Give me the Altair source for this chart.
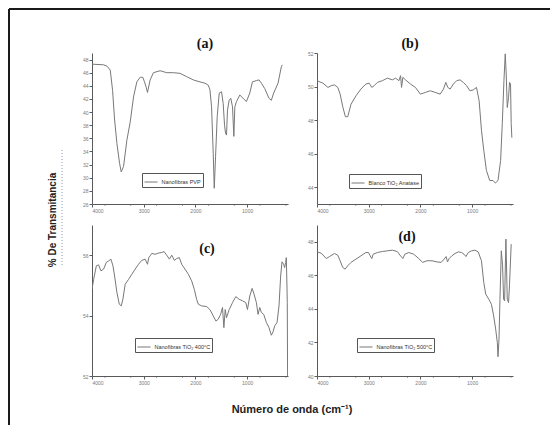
import altair as alt
import pandas as pd

# ---- data (wavenumber cm-1, % transmittance) ----
a_w = [4000, 3775, 3711, 3647, 3602, 3563, 3518, 3467, 3435, 3390, 3326, 3261, 3197, 3133, 3069, 3017, 2985, 2953, 2927, 2876,
       2812, 2683, 2555, 2426, 2298, 2170, 2041, 1913, 1816, 1752, 1720, 1688, 1656, 1636, 1611, 1579, 1540, 1495, 1463, 1437,
       1418, 1399, 1380, 1348, 1316, 1283, 1257, 1238, 1206, 1142, 1078, 1014, 949, 898, 821, 770, 725, 661, 577, 532,
       487, 403, 339, 320]
a_t = [47.3, 47.2, 47.0, 46.4, 43.3, 38.8, 35.2, 32.2, 30.9, 31.7, 35.7, 38.5, 42.3, 44.6, 45.3, 45.3, 44.6, 43.8, 43.0, 44.9,
       46.0, 46.3, 46.0, 46.0, 45.9, 45.4, 44.9, 44.6, 44.4, 44.1, 43.4, 40.8, 33.7, 28.4, 33.2, 39.3, 42.9, 43.1, 41.3, 38.0,
       36.8, 36.5, 40.3, 41.8, 42.1, 40.8, 36.3, 40.8, 41.6, 42.6, 42.1, 41.6, 42.9, 44.6, 44.8, 44.9, 44.4, 43.6, 42.1, 41.8,
       42.9, 44.4, 46.9, 47.2]

b_w = [4000, 3885, 3789, 3725, 3662, 3598, 3553, 3502, 3451, 3406, 3342, 3246, 3151, 3055, 2991, 2940, 2895, 2831, 2736, 2640,
       2544, 2480, 2416, 2384, 2365, 2340, 2289, 2193, 2097, 2001, 1905, 1810, 1714, 1618, 1554, 1509, 1471, 1426, 1363, 1299,
       1235, 1171, 1107, 1043, 979, 916, 865, 820, 775, 724, 660, 596, 551, 500, 449, 417, 385, 360, 341, 321,
       296, 277, 258, 245, 232]
b_t = [50.35, 50.2, 49.95, 50.05, 50.1, 49.95, 49.55, 48.8, 48.2, 48.2, 48.95, 49.45, 49.85, 50.15, 50.2, 49.95, 50.05, 50.25, 50.35, 50.5,
       50.4, 50.5, 50.35, 50.65, 49.95, 50.55, 50.4, 50.15, 49.95, 49.55, 49.65, 49.75, 49.65, 49.55, 49.85, 50.25, 49.95, 49.85, 50.15, 50.35,
       50.4, 50.25, 50.05, 49.75, 49.8, 49.95, 49.15, 47.4, 46.2, 45.0, 44.4, 44.4, 44.25, 44.4, 45.6, 47.8, 50.35, 51.95, 50.75, 48.75,
       49.35, 50.25, 50.15, 47.8, 46.95]

c_w = [4000, 3968, 3916, 3872, 3827, 3775, 3724, 3679, 3634, 3595, 3563, 3518, 3473, 3435, 3403, 3358, 3293, 3229, 3165, 3101,
       3037, 2972, 2927, 2902, 2876, 2844, 2780, 2715, 2651, 2606, 2555, 2503, 2458, 2407, 2362, 2311, 2266, 2202, 2137, 2073,
       2022, 1977, 1945, 1880, 1784, 1720, 1656, 1604, 1559, 1514, 1476, 1450, 1424, 1399, 1347, 1283, 1219, 1155, 1090, 1026,
       994, 949, 904, 866, 821, 789, 756, 724, 679, 628, 577, 532, 500, 467, 422, 384, 352, 326, 294, 275,
       255, 243, 230, 224, 218]
c_t = [54.87, 55.2, 55.65, 55.68, 55.48, 55.54, 55.76, 55.81, 55.87, 55.65, 55.31, 54.76, 54.38, 54.32, 54.54, 55.04, 55.2, 55.37, 55.54, 55.7,
       55.83, 55.87, 55.7, 55.92, 55.98, 56.06, 56.03, 56.07, 56.09, 56.12, 56.0, 55.87, 56.0, 55.83, 55.89, 55.92, 55.7, 55.54, 55.37, 55.15,
       54.87, 54.54, 54.38, 54.32, 54.3, 54.2, 53.99, 53.82, 53.88, 54.04, 54.27, 53.6, 54.2, 53.93, 54.2, 54.43, 54.63, 54.54, 54.49, 54.43,
       54.2, 54.65, 54.9, 54.71, 54.43, 54.04, 54.27, 54.1, 54.04, 53.77, 53.6, 53.35, 53.46, 53.66, 53.77, 54.32, 55.31, 55.78, 55.7, 55.59,
       55.76, 55.92, 54.98, 54.43, 52.0]

d_w = [4000, 3917, 3821, 3757, 3662, 3598, 3553, 3502, 3457, 3406, 3342, 3246, 3151, 3055, 3004, 2972, 2940, 2914, 2831, 2736,
       2640, 2544, 2448, 2384, 2340, 2301, 2225, 2129, 2033, 1957, 1874, 1778, 1682, 1599, 1541, 1503, 1477, 1445, 1394, 1331,
       1267, 1203, 1158, 1120, 1075, 1011, 947, 884, 820, 775, 737, 679, 628, 584, 545, 513, 500, 481, 462, 436,
       411, 392, 372, 347, 321, 296, 277, 245]
d_t = [47.4, 47.32, 47.0, 47.12, 47.3, 47.2, 46.87, 46.47, 46.37, 46.57, 46.77, 46.97, 47.16, 47.36, 47.36, 47.16, 47.0, 47.26, 47.36, 47.42,
       47.46, 47.5, 47.42, 47.16, 47.0, 47.26, 47.36, 47.26, 47.0, 46.77, 46.87, 46.87, 46.8, 46.77, 46.97, 47.12, 46.8, 47.0, 47.16, 47.3,
       47.4, 47.36, 47.26, 47.12, 47.36, 47.46, 47.5, 47.4, 46.87, 45.57, 44.88, 44.58, 44.28, 43.58, 42.79, 41.99, 41.15, 42.19, 44.58, 47.46,
       46.57, 44.58, 44.48, 48.16, 44.58, 44.38, 45.47, 47.86]

names = ["Nanofibras PVP", "Blanco TiO\u2082 Anatase", "Nanofibras TiO\u2082 400°C", "Nanofibras TiO\u2082 500°C"]
panel_labels = ["(a)", "(b)", "(c)", "(d)"]
x_ticks = [4000, 3500, 3000, 2500, 2000, 1500, 1000, 500]
x_minor = [3750, 3250, 2750, 2250, 1750, 1250, 750, 250]
y_domains = [[26, 49], [43, 52], [52, 57], [40, 49]]
y_ticks = [list(range(26, 49, 2)), [44, 46, 48, 50, 52], [52, 54, 56], [40, 42, 44, 46, 48]]
y_title = "% De Transmitancia"
x_title = "Número de onda (cm\u207b\u00b9)"

W, H = 196, 151
X_DOMAIN = [4000, 210]
GRAY = "#787878"
AX = "#5a5a5a"


def panel(wn, tr, k, legend_xy, label_xy):
    df = pd.DataFrame({"w": wn, "t": tr, "s": names[k], "i": list(range(len(wn)))})
    xs = alt.Scale(domain=X_DOMAIN, nice=False, zero=False)
    ys = alt.Scale(domain=y_domains[k], nice=False, zero=False)
    line = alt.Chart(df).mark_line(strokeWidth=1.0, clip=True).encode(
        x=alt.X("w:Q", scale=xs, axis=alt.Axis(values=x_ticks, title=None, format="d", grid=False,
                                                 labelFontSize=5, labelColor="#7a7a7a", labelPadding=1,
                                                 tickSize=3, tickColor=AX, domainColor=AX, labelFont="Liberation Sans")),
        y=alt.Y("t:Q", scale=ys, axis=alt.Axis(values=y_ticks[k], title=None, grid=False,
                                                 labelFontSize=5, labelColor="#7a7a7a", labelPadding=1,
                                                 tickSize=3, tickColor=AX, domainColor=AX, labelFont="Liberation Sans")),
        color=alt.Color("s:N", scale=alt.Scale(range=[GRAY]),
                        legend=alt.Legend(orient="none", legendX=legend_xy[0], legendY=legend_xy[1], title=None,
                                          strokeColor="#555", fillColor="white", padding=1.5,
                                          labelFontSize=5.5, labelFont="Liberation Sans", labelColor="#333",
                                          symbolType="stroke", symbolStrokeWidth=1, symbolSize=170,
                                          labelOffset=3)),
        order="i:Q",
    )
    minor = alt.Chart(pd.DataFrame({"m": x_minor})).mark_tick(color=AX, size=2, thickness=0.8,
                                                              orient="vertical").encode(
        x=alt.X("m:Q", scale=xs), y=alt.value(H + 1))
    lab = alt.Chart(pd.DataFrame({"l": [panel_labels[k]]})).mark_text(
        font="Liberation Serif", fontWeight="bold", fontSize=14, color="#111").encode(
        x=alt.value(label_xy[0]), y=alt.value(label_xy[1]), text="l:N")
    return line, minor, lab


la, ma, ta = panel(a_w, a_t, 0, (50, 120), (113, -9))
lb, mb, tb = panel(b_w, b_t, 1, (32, 121), (93, -9))
lc, mc, tc = panel(c_w, c_t, 2, (43, 113), (115, 24))
ld, md, td = panel(d_w, d_t, 3, (40, 113), (90, 12))

one = pd.DataFrame({"k": [0]})
frame_left = alt.Chart(one).mark_rule(color="#1a1a1a", strokeWidth=2).encode(
    x=alt.value(-83), y=alt.value(-44), y2=alt.value(372))
frame_top = alt.Chart(one).mark_rule(color="#1a1a1a", strokeWidth=2).encode(
    x=alt.value(-83), x2=alt.value(458), y=alt.value(-44))
dotted = alt.Chart(one).mark_rule(color="#8d9ab8", strokeWidth=1, strokeDash=[1, 2]).encode(
    x=alt.value(-30), y=alt.value(97), y2=alt.value(214))
ytitle = alt.Chart(pd.DataFrame({"l": [y_title]})).mark_text(
    font="Liberation Sans", fontWeight="bold", fontSize=10, angle=270, color="#222").encode(
    x=alt.value(-39), y=alt.value(167), text="l:N")
xtitle = alt.Chart(pd.DataFrame({"l": [x_title]})).mark_text(
    font="Liberation Sans", fontWeight="bold", fontSize=11, color="#222").encode(
    x=alt.value(200), y=alt.value(185), text="l:N")

pa = alt.layer(la, ma, ta, frame_left, frame_top, dotted, ytitle).properties(width=W, height=H)
pb = alt.layer(lb, mb, tb).properties(width=W, height=H)
pc = alt.layer(lc, mc, tc, xtitle).properties(width=W, height=H)
pd_ = alt.layer(ld, md, td).properties(width=W, height=H)

chart = alt.concat(pa, pb, pc, pd_, columns=2, spacing={"row": 21, "column": 29}, bounds="flush").resolve_scale(
    color="independent").resolve_legend(color="independent").properties(padding=0).configure_view(strokeWidth=0)

chart.save("out.html", embed_options={"renderer": "svg", "actions": False})
